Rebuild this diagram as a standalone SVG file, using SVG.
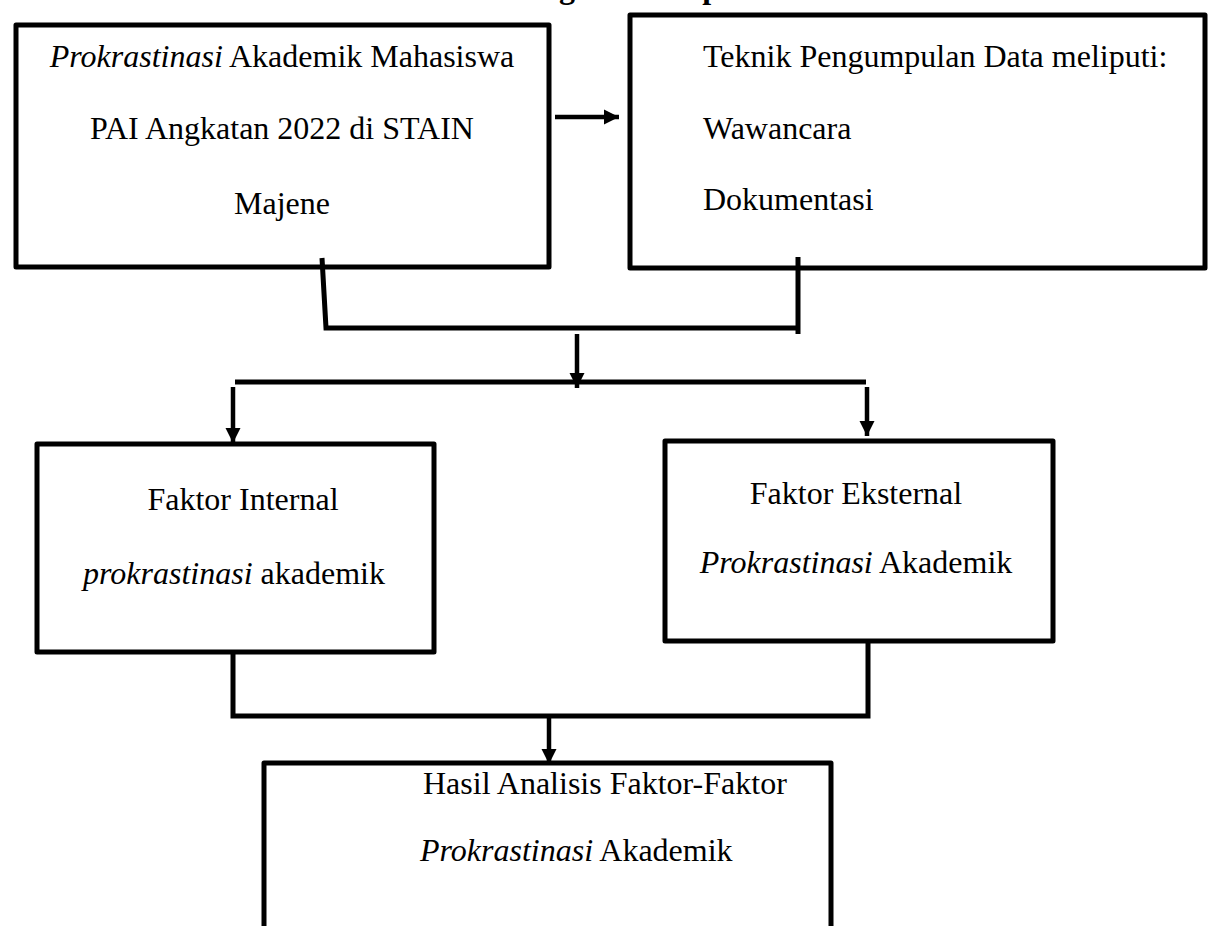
<svg xmlns="http://www.w3.org/2000/svg" width="1213" height="926" viewBox="0 0 1213 926">
  <style>
    .box { fill: #ffffff; stroke: #000000; stroke-width: 5; stroke-linejoin: round; }
    .t { font-family: "Liberation Serif", "Times New Roman", serif; font-size: 32px; fill: #000000; }
    .title { font-family: "Liberation Serif", "Times New Roman", serif; font-size: 32px; font-weight: bold; fill: #000000; }
    .c { fill: none; stroke: #000000; stroke-width: 5; stroke-linejoin: miter; }
    .a { fill: none; stroke: #000000; stroke-width: 4.5; }
  </style>
  <defs>
    <marker id="ah" viewBox="0 0 10 10" refX="10" refY="5" markerWidth="3.4" markerHeight="3.4" orient="auto" markerUnits="strokeWidth">
      <path d="M0,0 L10,5 L0,10 Z" fill="#000000"/>
    </marker>
  </defs>
  <rect width="1213" height="926" fill="#ffffff"/>

  <text class="title" x="472" y="-2">Kerangka Konseptual</text>

  <g id="box1">
    <rect class="box" x="16" y="25" width="533" height="242"/>
    <text class="t" x="282" y="67" text-anchor="middle"><tspan font-style="italic">Prokrastinasi</tspan> Akademik Mahasiswa</text>
    <text class="t" x="282" y="139" text-anchor="middle">PAI Angkatan 2022 di STAIN</text>
    <text class="t" x="282" y="214" text-anchor="middle">Majene</text>
  </g>

  <g id="box2">
    <rect class="box" x="630" y="15" width="575" height="253"/>
    <text class="t" x="703" y="67">Teknik Pengumpulan Data meliputi:</text>
    <text class="t" x="703" y="139">Wawancara</text>
    <text class="t" x="703" y="210">Dokumentasi</text>
  </g>

  <g id="box3">
    <rect class="box" x="37" y="444" width="397" height="208"/>
    <text class="t" x="243" y="510" text-anchor="middle">Faktor Internal</text>
    <text class="t" x="234" y="584" text-anchor="middle"><tspan font-style="italic">prokrastinasi</tspan> akademik</text>
  </g>

  <g id="box4">
    <rect class="box" x="665" y="441" width="388" height="200"/>
    <text class="t" x="856" y="504" text-anchor="middle">Faktor Eksternal</text>
    <text class="t" x="856" y="573" text-anchor="middle"><tspan font-style="italic">Prokrastinasi</tspan> Akademik</text>
  </g>

  <g id="box5">
    <rect class="box" x="264" y="763" width="567" height="200"/>
    <text class="t" x="423" y="794">Hasil Analisis Faktor-Faktor</text>
    <text class="t" x="420" y="861"><tspan font-style="italic">Prokrastinasi</tspan> Akademik</text>
  </g>

  <g id="connectors">
    <line class="a" x1="555" y1="117" x2="619" y2="117" marker-end="url(#ah)"/>
    <path class="c" d="M322,258 L326,328 L798,328"/>
    <line class="c" x1="798" y1="257" x2="798" y2="334"/>
    <line class="a" x1="577" y1="334" x2="577" y2="388" marker-end="url(#ah)"/>
    <line class="c" x1="235" y1="382" x2="866" y2="382"/>
    <line class="a" x1="233" y1="387" x2="233" y2="443" marker-end="url(#ah)"/>
    <line class="a" x1="867" y1="387" x2="867" y2="436" marker-end="url(#ah)"/>
    <path class="c" d="M233,652 L233,716 L868,716 L868,641"/>
    <line class="a" x1="549" y1="716" x2="549" y2="764" marker-end="url(#ah)"/>
  </g>
</svg>
